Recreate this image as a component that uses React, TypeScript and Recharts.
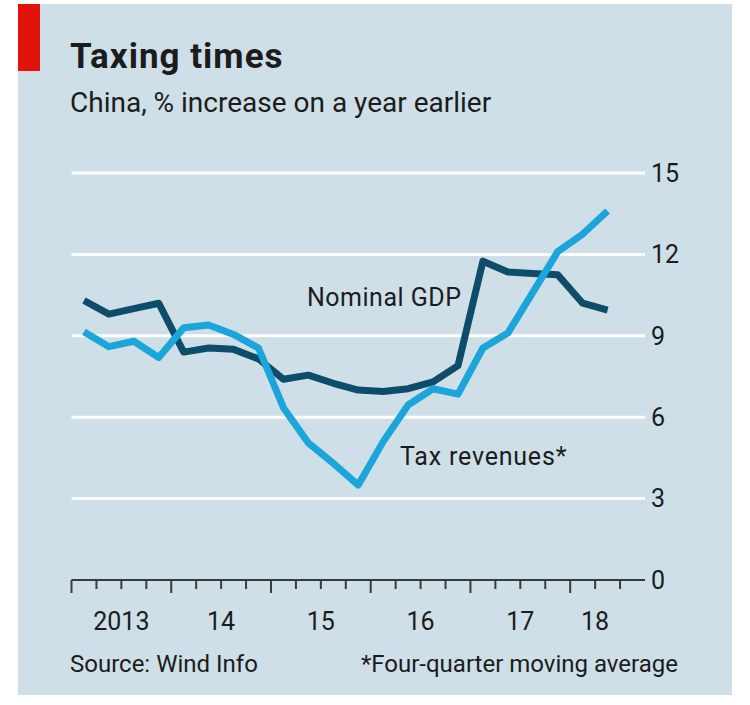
import React from 'react'
import { LineChart, Line, XAxis, YAxis, CartesianGrid } from 'recharts'

// quarterly, 2013 Q1 to 2018 Q2
const quarters = [
    '2013Q1', '2013Q2', '2013Q3', '2013Q4',
    '2014Q1', '2014Q2', '2014Q3', '2014Q4',
    '2015Q1', '2015Q2', '2015Q3', '2015Q4',
    '2016Q1', '2016Q2', '2016Q3', '2016Q4',
    '2017Q1', '2017Q2', '2017Q3', '2017Q4',
    '2018Q1', '2018Q2',
]
const nominalGdp = [
    10.3, 9.8, 10.0, 10.2,
    8.4, 8.55, 8.5, 8.15,
    7.4, 7.55, 7.25, 7.0,
    6.95, 7.05, 7.3, 7.9,
    11.75, 11.35, 11.3, 11.25,
    10.2, 9.95,
]
const taxRevenues = [
    9.15, 8.6, 8.8, 8.2,
    9.3, 9.4, 9.05, 8.55,
    6.35, 5.05, 4.3, 3.5,
    5.1, 6.45, 7.05, 6.85,
    8.55, 9.1, 10.6, 12.1,
    12.75, 13.6,
]
const yTicks = [0, 3, 6, 9, 12, 15]
const gridValues = [3, 6, 9, 12, 15]
const yearLabels = ['2013', '14', '15', '16', '17', '18']
const yearLabelPos = [2, 6, 10, 14, 18, 21] // in quarters from start of 2013

const data = quarters.map((q, i) => ({
    q,
    x: i + 0.5,
    gdp: nominalGdp[i],
    tax: taxRevenues[i],
}))

const quarterTicks = Array.from({ length: 23 }, (_, i) => i)

const colors = {
    panel: '#cfdfe7',
    red: '#e3120b',
    dark: '#0e4d69',
    light: '#1ca5da',
    text: '#1c1c1c',
    axis: '#3a3a3a',
}
const font = 'Roboto, "Noto Sans", sans-serif'

const QuarterTick = (props: any) => {
    const { x, y, payload } = props
    const v = payload.value as number
    const major = v % 4 === 0
    const li = yearLabelPos.indexOf(v)
    return (
        <g>
            <line x1={x} x2={x} y1={y} y2={y + (major ? 13 : 9)} stroke={colors.axis} strokeWidth={2} />
            {li >= 0 && (
                <text x={x} y={y + 50} textAnchor="middle" fill={colors.text} fontSize={25} fontFamily={font}>
                    {yearLabels[li]}
                </text>
            )}
        </g>
    )
}

export default function App() {
    return (
        <div style={{ position: 'absolute', left: 0, top: 0, width: 750, height: 705, background: '#fff' }}>
            <div style={{ position: 'absolute', left: 18, top: 4, width: 714, height: 691, background: colors.panel }} />
            <div style={{ position: 'absolute', left: 18, top: 4, width: 22, height: 67, background: colors.red }} />

            <div style={{ position: 'absolute', left: 0, top: 0 }}>
                <LineChart
                    width={750}
                    height={705}
                    data={data}
                    margin={{ top: 173, right: 0, bottom: 95, left: 71.5 }}
                >
                    <CartesianGrid
                        vertical={false}
                        horizontalValues={gridValues}
                        stroke="#ffffff"
                        strokeWidth={3}
                    />
                    <XAxis
                        dataKey="x"
                        type="number"
                        domain={[0, 23]}
                        ticks={quarterTicks}
                        interval={0}
                        height={30}
                        tickSize={0}
                        tickMargin={0}
                        tickLine={false}
                        axisLine={{ stroke: colors.axis, strokeWidth: 2 }}
                        tick={<QuarterTick />}
                    />
                    <YAxis
                        orientation="right"
                        width={105}
                        domain={[0, 15]}
                        ticks={yTicks}
                        axisLine={false}
                        tickLine={false}
                        tickSize={4}
                        tick={{ fill: colors.text, fontSize: 25, fontFamily: font }}
                    />
                    <Line
                        type="linear"
                        dataKey="gdp"
                        stroke={colors.dark}
                        strokeWidth={7}
                        strokeLinejoin="round"
                        dot={false}
                        isAnimationActive={false}
                    />
                    <Line
                        type="linear"
                        dataKey="tax"
                        stroke={colors.light}
                        strokeWidth={7}
                        strokeLinejoin="round"
                        dot={false}
                        isAnimationActive={false}
                    />
                </LineChart>
            </div>

            <svg
                width={750}
                height={705}
                style={{ position: 'absolute', left: 0, top: 0, pointerEvents: 'none' }}
                fontFamily={font}
                fill={colors.text}
            >
                <text x={70} y={68} fontSize={35} fontWeight={700} letterSpacing={1}>Taxing times</text>
                <text x={70} y={112} fontSize={28}>China, % increase on a year earlier</text>
                <text x={307} y={306} fontSize={25} letterSpacing={0.5}>Nominal GDP</text>
                <text x={400} y={465} fontSize={25} letterSpacing={0.8}>Tax revenues*</text>
                <text x={70} y={672} fontSize={24}>Source: Wind Info</text>
                <text x={678} y={672} fontSize={24} textAnchor="end">*Four-quarter moving average</text>
            </svg>
        </div>
    )
}
